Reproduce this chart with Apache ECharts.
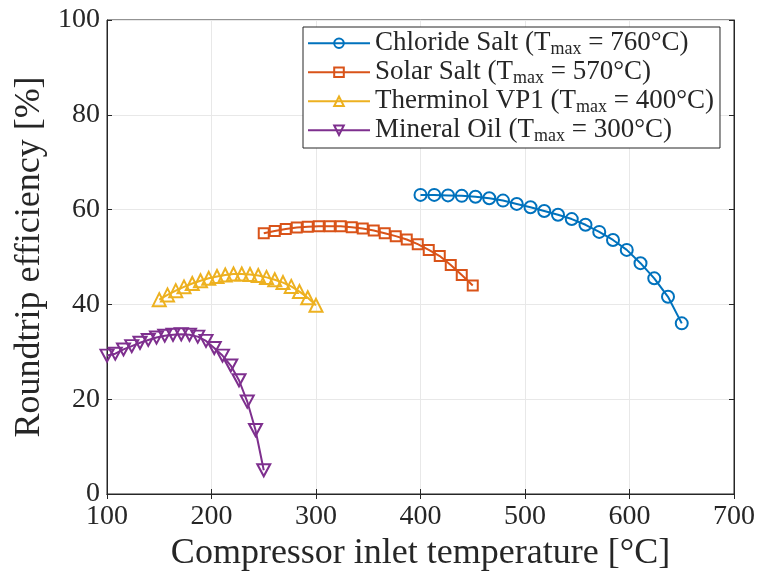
<!DOCTYPE html>
<html>
<head>
<meta charset="utf-8">
<script src="https://cdn.jsdelivr.net/npm/echarts@6/dist/echarts.min.js"></script>
<style>
  html, body { margin: 0; padding: 0; background: #fff; }
  #chart { width: 759px; height: 577px; }
</style>
</head>
<body>
<div id="chart"></div>
<script>
// Compressor inlet temperature grids [°C], 20 points per fluid
function span(a, b, n) {
  const out = [];
  for (let i = 0; i < n; i++) out.push(a + (b - a) * i / (n - 1));
  return out;
}
const chlorideT = span(400, 650, 20);
const solarT = span(250, 450, 20);
const therminolT = span(150, 300, 20);
const mineralT = span(100, 250, 20);

// Roundtrip efficiency [%]
const chlorideEff = [63.1, 63.1, 63.0, 62.9, 62.7, 62.4, 61.9, 61.2, 60.5, 59.7,
                     58.9, 58.0, 56.8, 55.3, 53.6, 51.5, 48.7, 45.5, 41.6, 36.0];
const solarEff = [55.0, 55.5, 55.9, 56.2, 56.4, 56.5, 56.5, 56.5, 56.3, 56.0,
                  55.6, 55.0, 54.4, 53.7, 52.7, 51.5, 50.2, 48.3, 46.2, 44.0];
const therminolEff = [41.0, 42.0, 42.9, 43.7, 44.4, 45.0, 45.5, 45.9, 46.2, 46.4,
                      46.4, 46.3, 46.1, 45.7, 45.2, 44.6, 43.8, 42.7, 41.4, 39.8];
const mineralEff = [29.2, 29.6, 30.5, 31.2, 31.9, 32.5, 33.0, 33.4, 33.6, 33.7,
                    33.6, 33.2, 32.3, 30.8, 29.2, 27.1, 24.0, 19.5, 13.5, 5.0];

const fluidNames = ['Chloride Salt', 'Solar Salt', 'Therminol VP1', 'Mineral Oil'];
const fluidTmax = ['760', '570', '400', '300'];
const xTicks = [100, 200, 300, 400, 500, 600, 700];
const yTicks = [0, 20, 40, 60, 80, 100];

const colors = ['#0072BD', '#D95319', '#EDB120', '#7E2F8E'];
const symbols = ['circle', 'rect', 'triangle', 'path://M0,0 L10,0 L5,9 Z'];
const symbolSizes = [12, 10, 13, [13, 12]];
const temps = [chlorideT, solarT, therminolT, mineralT];
const effs = [chlorideEff, solarEff, therminolEff, mineralEff];

const serif = '"Liberation Serif", "DejaVu Serif", serif';
const ink = '#262626';

// Open markers: the connecting line stays visible through each symbol
const series = fluidNames.map((name, k) => ({
  name: name,
  type: 'line',
  data: temps[k].map((t, i) => [t, effs[k][i]]),
  symbol: symbols[k],
  symbolSize: symbolSizes[k],
  showAllSymbol: true,
  lineStyle: { color: colors[k], width: 2 },
  itemStyle: { color: 'rgba(255,255,255,0)', borderColor: colors[k], borderWidth: 2 },
  emphasis: { disabled: true },
  animation: false,
  z: 3
}));

const axisCommon = {
  type: 'value',
  axisLine: { show: true, lineStyle: { color: ink, width: 1 } },
  axisTick: { show: true, inside: true, length: 5, lineStyle: { color: ink } }
};

const chart = echarts.init(document.getElementById('chart'), null, { renderer: 'canvas' });
chart.setOption({
  backgroundColor: '#fff',
  animation: false,
  grid: { left: 107, right: 25, top: 20, bottom: 83, show: true,
          borderColor: ink, borderWidth: 1, backgroundColor: '#fff' },
  xAxis: [
    Object.assign({}, axisCommon, {
      min: xTicks[0], max: xTicks[xTicks.length - 1], interval: 100,
      name: 'Compressor inlet temperature [°C]',
      nameLocation: 'middle', nameGap: 40,
      nameTextStyle: { fontFamily: serif, fontSize: 36, color: ink },
      axisLabel: { fontFamily: serif, fontSize: 28, color: ink, margin: 9 },
      splitLine: { show: true, lineStyle: { color: '#e8e8e8', width: 1 } }
    }),
    Object.assign({}, axisCommon, {
      position: 'top', min: xTicks[0], max: xTicks[xTicks.length - 1], interval: 100,
      axisLabel: { show: false }, splitLine: { show: false }
    })
  ],
  yAxis: [
    Object.assign({}, axisCommon, {
      min: yTicks[0], max: yTicks[yTicks.length - 1], interval: 20,
      name: 'Roundtrip efficiency [%]',
      nameLocation: 'middle', nameGap: 57, nameRotate: 90,
      nameTextStyle: { fontFamily: serif, fontSize: 36, color: ink },
      axisLabel: { fontFamily: serif, fontSize: 28, color: ink, margin: 7 },
      splitLine: { show: true, lineStyle: { color: '#e8e8e8', width: 1 } }
    }),
    Object.assign({}, axisCommon, {
      position: 'right', min: yTicks[0], max: yTicks[yTicks.length - 1], interval: 20,
      axisLabel: { show: false }, splitLine: { show: false }
    })
  ],
  legend: {
    left: 303, top: 27,
    orient: 'vertical',
    backgroundColor: '#fff',
    borderColor: ink, borderWidth: 1,
    padding: [2, 6, 3, 4],
    itemGap: 0,
    itemWidth: 62, itemHeight: 12,
    data: fluidNames,
    formatter: function (name) {
      const k = fluidNames.indexOf(name);
      return '{n|' + name + ' (T}{s|max}{n| = ' + fluidTmax[k] + '°C)}';
    },
    textStyle: {
      fontFamily: serif, color: ink, fontSize: 27,
      rich: {
        n: { fontFamily: serif, fontSize: 27, color: ink, lineHeight: 29.5 },
        s: { fontFamily: serif, fontSize: 18, color: ink, lineHeight: 29.5,
             verticalAlign: 'bottom', padding: [11, 0, 0, 0] }
      }
    }
  },
  series: series
});
</script>
</body>
</html>
